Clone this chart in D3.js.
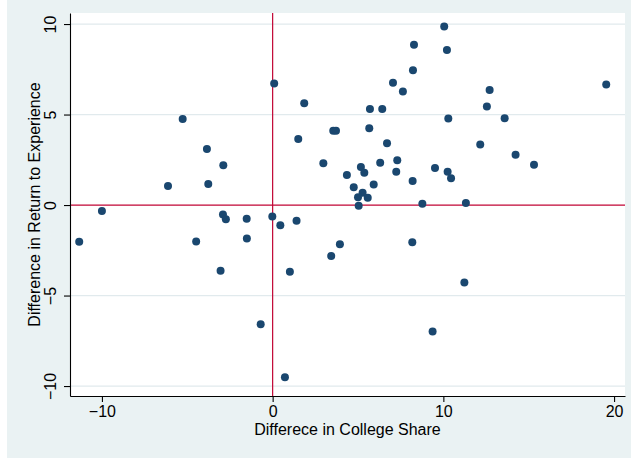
<!DOCTYPE html>
<html>
<head>
<meta charset="utf-8">
<script src="https://cdn.jsdelivr.net/npm/d3@7"></script>
<style>
  body { margin: 0; background: #fff; }
  svg { display: block; font-family: "Liberation Sans", Arial, sans-serif; }
</style>
</head>
<body>
<div class="scatter-canvas"></div>
<script>
// difference in college share (x) vs difference in return to experience (y)
var collegeShare = [
  -10.00, -5.27, -6.13, -3.85, -3.77, -2.89, -2.91, -2.74, -1.52, -0.02,
  0.45, 1.40, 0.09, 1.85, 1.50, -11.33, -4.48, -1.51, -3.05, 1.01,
  -0.70, 0.72, 10.05, 8.28, 10.21, 8.22, 7.05, 7.63, 19.54, 12.71,
  12.55, 5.70, 6.42, 10.29, 13.59, 3.55, 3.71, 5.66, 6.70, 12.16,
  2.97, 7.30, 14.23, 15.31, 5.17, 5.37, 6.30, 7.24, 9.51, 10.25,
  10.45, 4.35, 5.92, 4.75, 8.20, 5.27, 5.00, 5.57, 5.04, 8.77,
  11.32, 3.43, 3.94, 8.18, 11.23, 9.37
];
var returnDiff = [
  -0.33, 4.76, 1.05, 3.10, 1.16, 2.20, -0.52, -0.79, -0.76, -0.63,
  -1.12, -0.87, 6.71, 5.63, 3.65, -2.03, -2.01, -1.85, -3.63, -3.69,
  -6.59, -9.52, 9.87, 8.85, 8.56, 7.45, 6.75, 6.27, 6.66, 6.36,
  5.44, 5.31, 5.31, 4.78, 4.80, 4.10, 4.10, 4.24, 3.41, 3.34,
  2.31, 2.47, 2.78, 2.23, 2.10, 1.79, 2.34, 1.84, 2.05, 1.84,
  1.48, 1.66, 1.14, 0.98, 1.33, 0.68, 0.43, 0.40, -0.04, 0.07,
  0.11, -2.82, -2.16, -2.05, -4.28, -6.99
];
var xTicks = [-10, 0, 10, 20];
var yTicks = [-10, -5, 0, 5, 10];

var width = 631, height = 458;
var plotLeft = 70, plotRight = 625, plotTop = 13, plotBottom = 396;

var svg = d3.select(".scatter-canvas")
  .append("svg")
  .attr("width", width)
  .attr("height", height);

// graph region + plot region
svg.append("rect")
  .attr("x", 7).attr("y", 0)
  .attr("width", width - 7).attr("height", height)
  .attr("fill", "#eaf2f3");
svg.append("rect")
  .attr("x", plotLeft).attr("y", plotTop)
  .attr("width", plotRight - plotLeft).attr("height", plotBottom - plotTop)
  .attr("fill", "#fff");

var x = d3.scaleLinear()
  .domain([-11.87, 20.64])
  .range([plotLeft, plotRight]);

var y = d3.scaleLinear()
  .domain([-10.55, 10.61])
  .range([plotBottom, plotTop]);

// grid lines
svg.append("g")
  .selectAll("line")
  .data(yTicks.filter(d => d != 0))
  .enter()
  .append("line")
  .attr("x1", plotLeft).attr("x2", plotRight)
  .attr("y1", d => y(d)).attr("y2", d => y(d))
  .attr("stroke", "#e1eaed")
  .attr("stroke-width", 1.3);

// reference lines at zero
svg.append("line")
  .attr("x1", x(0)).attr("x2", x(0))
  .attr("y1", plotTop).attr("y2", plotBottom)
  .attr("stroke", "#c10534")
  .attr("stroke-width", 1.2);
svg.append("line")
  .attr("x1", plotLeft).attr("x2", plotRight)
  .attr("y1", y(0)).attr("y2", y(0))
  .attr("stroke", "#c10534")
  .attr("stroke-width", 1.2);

var fmt = d => d < 0 ? "\u2212" + Math.abs(d) : d;

var xAxis = g => g
  .attr("transform", `translate(0,${plotBottom})`)
  .call(d3.axisBottom(x).tickValues(xTicks).tickSize(6).tickPadding(4)
    .tickFormat(fmt).tickSizeOuter(0));

var yAxis = g => g
  .attr("transform", `translate(${plotLeft},0)`)
  .call(d3.axisLeft(y).tickValues(yTicks).tickSize(6)
    .tickFormat(fmt).tickSizeOuter(0));

var gx = svg.append("g").call(xAxis);
var gy = svg.append("g").call(yAxis);

[gx, gy].forEach(g => {
  g.selectAll("path, line").attr("stroke", "#000").attr("stroke-width", 1.1);
  g.selectAll("text").attr("font-size", 16).attr("fill", "#000")
    .attr("font-family", "Liberation Sans, Arial, sans-serif");
});

gy.selectAll("text")
  .attr("x", null)
  .attr("dy", null)
  .attr("transform", "translate(-14,0) rotate(-90)")
  .style("text-anchor", "middle");

// axis titles
svg.append("text")
  .attr("x", (plotLeft + plotRight) / 2)
  .attr("y", 435)
  .attr("text-anchor", "middle")
  .attr("font-size", 16)
  .text("Differece in College Share");

svg.append("text")
  .attr("transform", `translate(40,${(plotTop + plotBottom) / 2}) rotate(-90)`)
  .attr("text-anchor", "middle")
  .attr("font-size", 16)
  .text("Difference in Return to Experience");

// points
svg.append("g")
  .selectAll("circle")
  .data(collegeShare.map((d, i) => ({ share: d, ret: returnDiff[i] })))
  .enter()
  .append("circle")
  .attr("cx", d => x(d.share))
  .attr("cy", d => y(d.ret))
  .attr("r", 4)
  .attr("fill", "#1a476f");
</script>
</body>
</html>
